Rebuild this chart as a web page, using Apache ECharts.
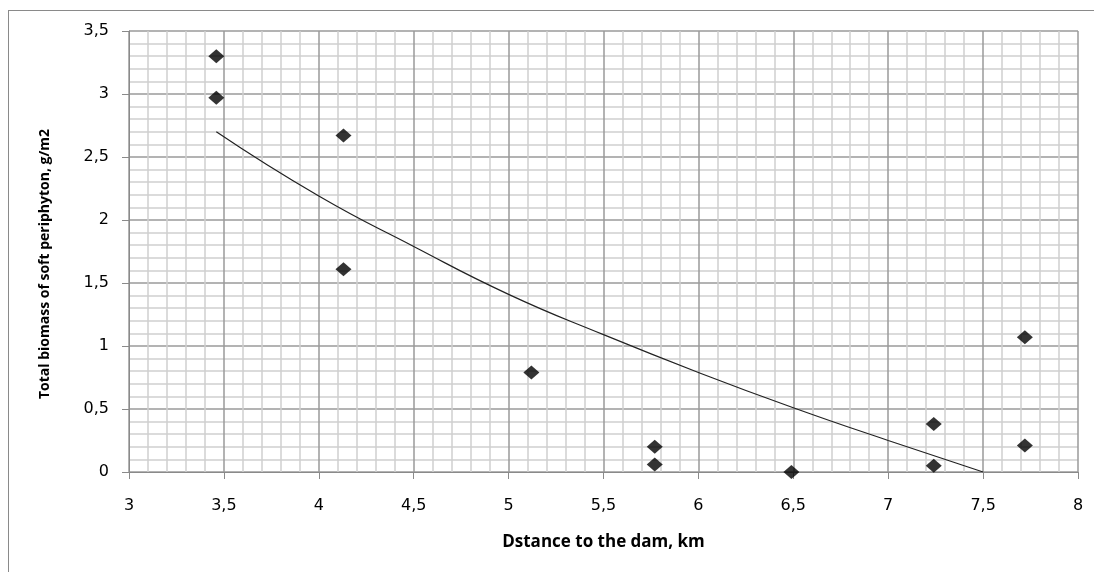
<!DOCTYPE html>
<html>
<head>
<meta charset="utf-8">
<script src="https://cdn.jsdelivr.net/npm/echarts@6/dist/echarts.min.js"></script>
<style>
html,body{margin:0;padding:0;background:#fff;}
#frame{position:absolute;left:8px;top:10px;width:1100px;height:580px;border-left:1px solid #8a8a8a;border-top:1px solid #8a8a8a;}
#chart{position:absolute;left:0;top:0;width:1094px;height:572px;}
</style>
</head>
<body>
<div id="frame"></div>
<div id="chart"></div>
<script>
const distanceKm = [3.46, 3.46, 4.13, 4.13, 5.12, 5.77, 5.77, 6.49, 7.24, 7.24, 7.72, 7.72];
const biomass = [3.30, 2.97, 2.67, 1.61, 0.79, 0.20, 0.06, 0.00, 0.38, 0.05, 1.07, 0.21];
const trendX = [3.46, 4.0, 4.5, 5.0, 5.5, 6.0, 6.5, 7.0, 7.5];
const trendY = [2.70, 2.19, 1.79, 1.41, 1.09, 0.79, 0.51, 0.25, 0.0];
const xTitle = 'Dstance to the dam, km';
const yTitle = 'Total biomass of soft periphyton, g/m2';

const chart = echarts.init(document.getElementById('chart'), null, {renderer: 'canvas'});
const fmt = v => String(v).replace('.', ',');
const scatterData = distanceKm.map((x, i) => [x, biomass[i]]);
const trendData = trendX.map((x, i) => [x, trendY[i]]);

chart.setOption({
  animation: false,
  backgroundColor: 'transparent',
  grid: {left: 129, right: 16, top: 31, bottom: 100, containLabel: false},
  graphic: [{
    type: 'text', x: 45, y: 264, rotation: Math.PI / 2,
    style: {text: yTitle, fontFamily: 'Open Sans', fontWeight: 'bold', fontSize: 14, fill: '#000',
            align: 'center', verticalAlign: 'middle'}
  }],
  xAxis: {
    type: 'value', min: 3, max: 8, interval: 0.5,
    name: xTitle, nameLocation: 'middle', nameGap: 62,
    nameTextStyle: {fontFamily: 'Open Sans', fontWeight: 'bold', fontSize: 17, color: '#000'},
    axisLine: {show: true, lineStyle: {color: '#8a8a8a', width: 1}},
    axisTick: {show: true, length: 7, lineStyle: {color: '#8a8a8a'}},
    minorTick: {show: false, splitNumber: 5},
    splitLine: {show: true, lineStyle: {color: '#9a9a9a', width: 1.5}},
    minorSplitLine: {show: true, lineStyle: {color: '#cfcfcf', width: 1.5}},
    axisLabel: {formatter: fmt, fontFamily: 'DejaVu Sans', fontSize: 16, color: '#000', margin: 26}
  },
  yAxis: {
    type: 'value', min: 0, max: 3.5, interval: 0.5,
    axisLine: {show: true, lineStyle: {color: '#8a8a8a', width: 1}},
    axisTick: {show: true, length: 7, lineStyle: {color: '#8a8a8a'}},
    minorTick: {show: false, splitNumber: 5},
    splitLine: {show: true, lineStyle: {color: '#9a9a9a', width: 1.5}},
    minorSplitLine: {show: true, lineStyle: {color: '#cfcfcf', width: 1.5}},
    axisLabel: {formatter: fmt, fontFamily: 'DejaVu Sans', fontSize: 16, color: '#000', margin: 20}
  },
  series: [
    {
      type: 'line', data: trendData, smooth: true, showSymbol: false,
      lineStyle: {color: '#222', width: 1.2}, z: 3, silent: true
    },
    {
      type: 'scatter', data: scatterData, symbol: 'diamond', symbolSize: [16, 14],
      itemStyle: {color: '#000'}, z: 4
    }
  ]
});
</script>
</body>
</html>
